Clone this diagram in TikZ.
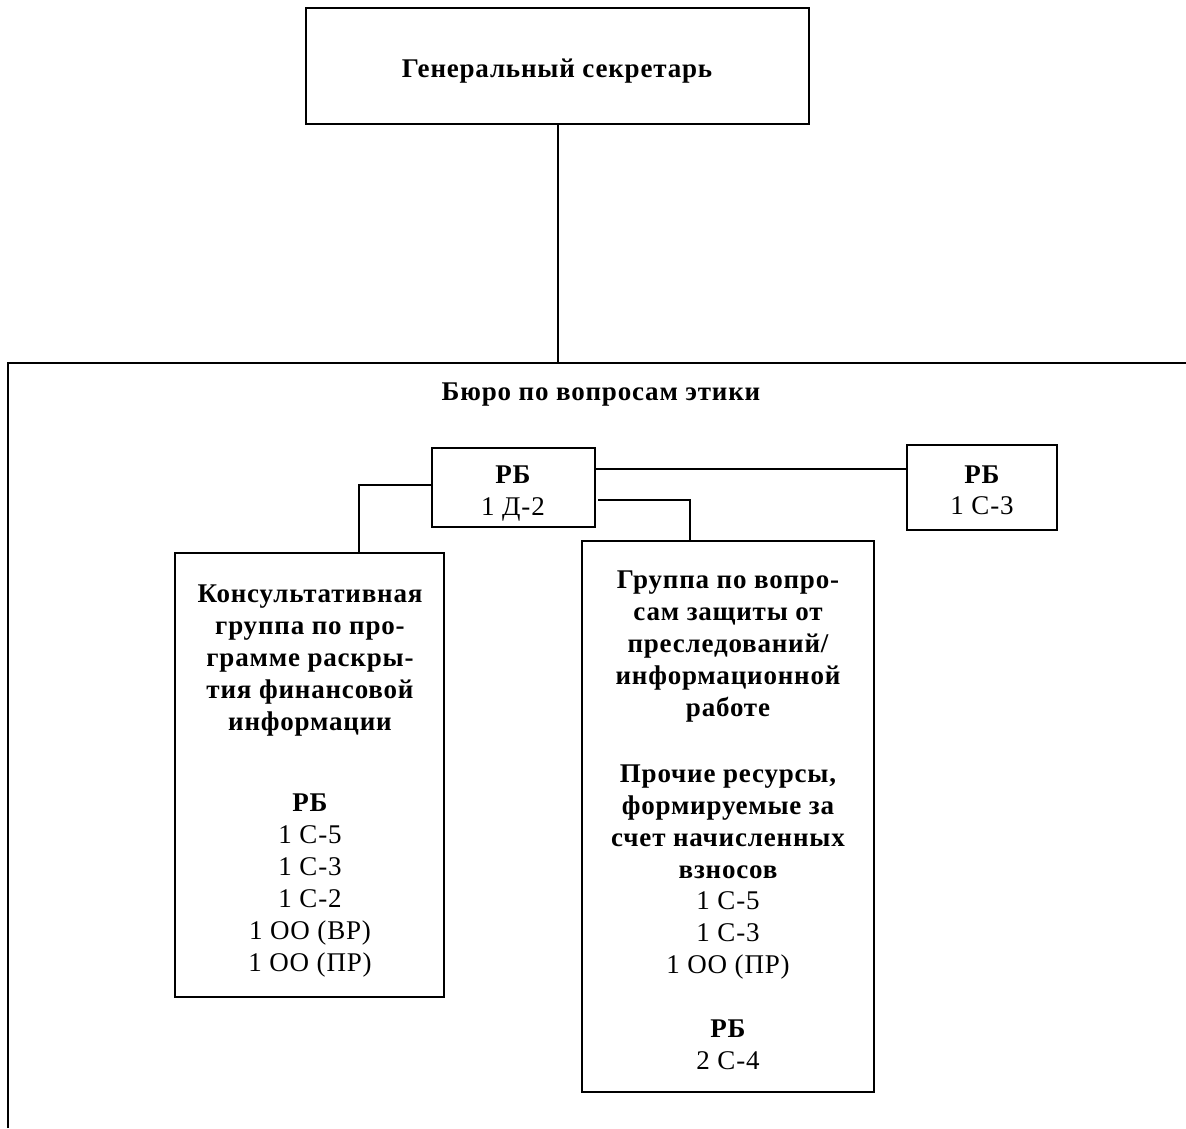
\documentclass[tikz,border=0pt]{standalone}
\usepackage{fontspec}
\setmainfont{Liberation Serif}[LetterSpace=3]
\begin{document}
\begin{tikzpicture}[x=1pt,y=-1pt,
  box/.style={draw,line width=2pt,inner sep=0pt},
  conn/.style={line width=2pt},
  txt/.style={anchor=base,inner sep=0pt,font=\fontsize{27}{32}\selectfont},
  btxt/.style={txt,font=\fontsize{27}{32}\selectfont\bfseries}]
\useasboundingbox (0,0) rectangle (1186,1128);
% boxes
\node[box,minimum width=503pt,minimum height=116pt] (gs) at (557.5,66) {};
\node[box,minimum width=163pt,minimum height=79pt] (rbd) at (513.5,487.5) {};
\node[box,minimum width=150pt,minimum height=85pt] (rbc) at (982,487.5) {};
\node[box,minimum width=269pt,minimum height=444pt] (grpA) at (309.5,775) {};
\node[box,minimum width=292pt,minimum height=551pt] (grpB) at (728,816.5) {};
% frame
\coordinate (frTop) at (557.5,363);
\draw[conn] (8,1128) -- (8,363) -- (1186,363);
% texts
\node[btxt] (gsT) at (557,77) {Генеральный секретарь};
\node[btxt] (bureau) at (601,400) {Бюро по вопросам этики};
\node[btxt] (rbdT) at (513,483) {РБ};
\node[txt] (rbdN) at (513,515) {1 Д-2};
\node[btxt] (rbcT) at (982,483) {РБ};
\node[txt] (rbcN) at (982,514) {1 С-3};
\foreach \t [count=\i] in {Консультативная,группа по про-,грамме раскры-,тия финансовой,информации}
  \node[btxt] (aT\i) at (310,{602+32*(\i-1)}) {\t};
\node[btxt] (aRB) at (310,811) {РБ};
\foreach \t [count=\i] in {1 С-5,1 С-3,1 С-2,1 ОО (ВР),1 ОО (ПР)}
  \node[txt] (aN\i) at (310,{843+32*(\i-1)}) {\t};
\foreach \t [count=\i] in {Группа по вопро-,сам защиты от,преследований/,информационной,работе}
  \node[btxt] (bT\i) at (728,{588+32*(\i-1)}) {\t};
\foreach \t [count=\i] in {{Прочие ресурсы,},формируемые за,счет начисленных,взносов}
  \node[btxt] (bP\i) at (728,{782+32*(\i-1)}) {\t};
\foreach \t [count=\i] in {1 С-5,1 С-3,1 ОО (ПР)}
  \node[txt] (bN\i) at (728,{909+32*(\i-1)}) {\t};
\node[btxt] (bRB) at (728,1037) {РБ};
\node[txt] (bN4) at (728,1069) {2 С-4};
% connectors
\draw[conn] (gs.south) -- (frTop);
\draw[conn] (rbd.east |- 0,469) -- (rbc.west |- 0,469);
\draw[conn] (rbd.west |- 0,485) -| (grpA.north -| 359,0);
\draw[conn] (598,500) -| (grpB.north -| 690,0);
\end{tikzpicture}
\end{document}
